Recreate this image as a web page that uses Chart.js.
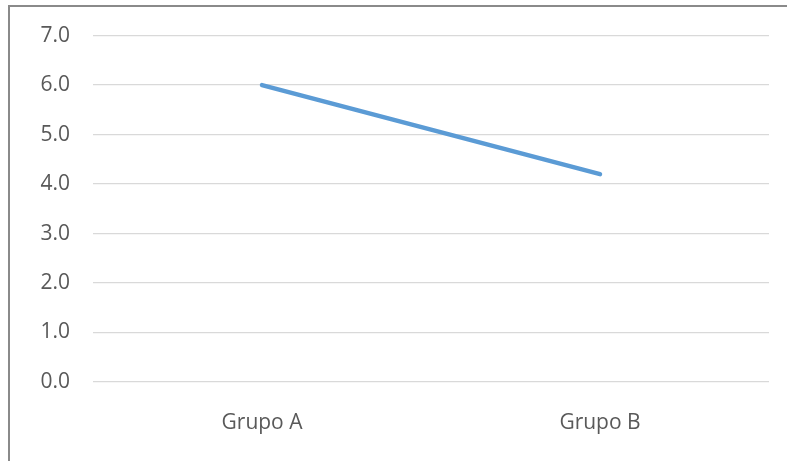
<!DOCTYPE html>
<html>
<head>
<meta charset="utf-8">
<script src="https://cdn.jsdelivr.net/npm/chart.js@4"></script>
<style>
  html, body { margin: 0; padding: 0; background: #fff; overflow: hidden; }
  #wrap { position: relative; width: 787px; height: 461px; }
  #frame { position: absolute; left: 8px; top: 5px; width: 820px; height: 500px;
           border: 2px solid #8a8a8a; pointer-events: none; }
  canvas { position: absolute; left: 0; top: 0; }
</style>
</head>
<body>
<div id="wrap">
  <canvas id="chart" width="787" height="461"></canvas>
  <div id="frame"></div>
</div>
<script>
const categories = ['Grupo A', 'Grupo B'];
const values = [6.0, 4.2];
const yTicks = [0, 1, 2, 3, 4, 5, 6, 7];

const font = { family: '"Open Sans", sans-serif', size: 21 };

new Chart(document.getElementById('chart'), {
  type: 'line',
  data: {
    labels: categories,
    datasets: [{
      data: values,
      borderColor: '#5b9bd5',
      backgroundColor: '#5b9bd5',
      borderWidth: 4.5,
      borderCapStyle: 'round',
      borderJoinStyle: 'round',
      pointRadius: 0,
      tension: 0,
      fill: false
    }]
  },
  options: {
    responsive: false,
    animation: false,
    layout: { padding: { top: 35, right: 18, bottom: 0, left: 0 } },
    plugins: { legend: { display: false }, tooltip: { enabled: false } },
    scales: {
      x: {
        offset: true,
        grid: { display: false },
        border: { display: false },
        ticks: { color: '#595959', font: font, padding: 20, maxRotation: 0 },
        afterFit: s => { s.height = 79; }
      },
      y: {
        min: yTicks[0],
        max: yTicks[yTicks.length - 1],
        afterBuildTicks: s => { s.ticks = yTicks.map(v => ({ value: v })); },
        grid: { color: '#d9d9d9', lineWidth: 1.3, drawTicks: false },
        border: { display: false },
        ticks: {
          color: '#595959', font: font, padding: 23,
          callback: v => Number(v).toFixed(1)
        },
        afterFit: s => { s.width = 93; }
      }
    }
  }
});
</script>
</body>
</html>
